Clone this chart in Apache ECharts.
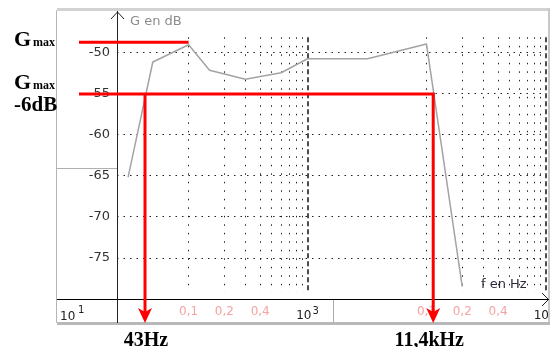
<!DOCTYPE html>
<html>
<head>
<meta charset="utf-8">
<script src="https://cdn.jsdelivr.net/npm/echarts@6/dist/echarts.min.js"></script>
<style>
  html, body { margin: 0; padding: 0; background: #fff; }
  #chart { width: 556px; height: 347px; }
</style>
</head>
<body>
<div id="chart"></div>
<script>
const freqs = [31, 50, 100, 150, 300, 600, 1000, 3200, 10000, 20000]
const gains = [-65.2, -51.2, -49.1, -52.2, -53.3, -52.5, -50.8, -50.8, -49.0, -78.5]

// graduations
const xTickValues = [100, 200, 400, 1000, 10000, 20000, 40000, 100000]
const xTickLabels = ['0,1', '0,2', '0,4', '10^3', '0,1', '0,2', '0,4', '10^5']
const minorGrid = [100, 200, 300, 400, 500, 600, 700, 800, 900,
  10000, 20000, 30000, 40000, 50000, 60000, 70000, 80000, 90000]
const decadeLines = [1000, 100000]

// annotations
const gMax = -48.8
const gCut = -55.1
const fPeak = 100
const fLow = 43
const fHigh = 11400

const myChart = echarts.init(document.getElementById('chart'))

const font = 'DejaVu Sans'

function xLabel (v) {
  let idx = -1
  xTickValues.forEach((t, i) => {
    if (Math.abs(Math.log10(v) - Math.log10(t)) < 0.01) idx = i
  })
  if (idx < 0) return ''
  const txt = xTickLabels[idx]
  if (txt.indexOf('^') > 0) {
    const p = txt.split('^')
    if (v > 50000) return '{b|' + p[0] + '}{sp|}'
    return '{b|' + p[0] + '}{e|' + p[1] + '}'
  }
  return '{p|' + txt + '}'
}

// lignes verticales de la grille (pointillés / tirets)
const vLines = []
minorGrid.forEach(f => {
  vLines.push([{ coord: [f, -48.2], lineStyle: { type: [1.5, 7], color: '#222', width: 1 } }, { coord: [f, -79.2] }])
})
decadeLines.forEach(f => {
  vLines.push([{ coord: [f, -48.2], lineStyle: { type: [5, 3], color: '#111', width: 1.5 } }, { coord: [f, -79.2] }])
})

const option = {
  animation: false,
  grid: { left: 117, right: 10, top: 11, bottom: 48 },
  xAxis: {
    type: 'log',
    logBase: 10,
    min: 25,
    max: 100000,
    axisLine: { show: true, lineStyle: { color: '#000', width: 1 } },
    axisTick: { show: false },
    splitLine: { show: false },
    axisLabel: {
      customValues: xTickValues,
      margin: 7,
      formatter: xLabel,
      rich: {
        p: { color: '#f5a3a3', fontSize: 12, fontFamily: font },
        b: { color: '#222', fontSize: 12, fontFamily: font, padding: [4, 0, 0, 0] },
        e: { color: '#222', fontSize: 10, fontFamily: font, padding: [0, 0, 6, 1] },
        sp: { width: 8 }
      }
    }
  },
  yAxis: {
    type: 'value',
    min: -80,
    max: -45,
    interval: 5,
    axisLine: { show: true, lineStyle: { color: '#222', width: 1 } },
    axisTick: { show: false },
    axisLabel: {
      color: '#333',
      fontSize: 13,
      fontFamily: font,
      margin: 7,
      showMaxLabel: false,
      showMinLabel: false
    },
    splitLine: {
      show: true,
      showMaxLine: false,
      showMinLine: false,
      lineStyle: { type: [1.5, 5], color: '#222', width: 1 }
    }
  },
  series: [
    {
      type: 'line',
      data: freqs.map((f, i) => [f, gains[i]]),
      showSymbol: false,
      lineStyle: { color: '#a3a3a3', width: 1.5 },
      z: 5,
      markLine: {
        silent: true,
        symbol: 'none',
        label: { show: false },
        data: vLines
      }
    }
  ]
}

myChart.setOption(option)

// annotations rouges placées avec les échelles du graphique
const pPeak = myChart.convertToPixel({ gridIndex: 0 }, [fPeak, gMax])
const pLow = myChart.convertToPixel({ gridIndex: 0 }, [fLow, gCut])
const pHigh = myChart.convertToPixel({ gridIndex: 0 }, [fHigh, gCut])
const red = '#ff0000'
const tipY = 323

function arrow (x) {
  return [
    { type: 'line', z: 100, shape: { x1: x, y1: pLow[1], x2: x, y2: tipY - 8 }, style: { stroke: red, lineWidth: 3 } },
    { type: 'polygon', z: 100, shape: { points: [[x - 7, tipY - 15], [x, tipY - 11], [x + 7, tipY - 15], [x, tipY]] }, style: { fill: red } }
  ]
}

const graphic = [
  // cadre
  { type: 'rect', z: 1, shape: { x: 56.5, y: 10.5, width: 492, height: 312 }, style: { fill: null, stroke: '#b4b4b4', lineWidth: 1 } },
  { type: 'rect', z: 1, shape: { x: 57, y: 8, width: 493, height: 3 }, style: { fill: '#d2d2d2' } },
  { type: 'rect', z: 1, shape: { x: 548, y: 8, width: 2, height: 316 }, style: { fill: '#c8c8c8' } },
  { type: 'rect', z: 1, shape: { x: 57, y: 322, width: 493, height: 3 }, style: { fill: '#b8b8b8' } },
  { type: 'line', z: 1, shape: { x1: 57, y1: 168.5, x2: 117, y2: 168.5 }, style: { stroke: '#b0b0b0', lineWidth: 1 } },
  // bande de l'axe des fréquences
  { type: 'line', z: 3, shape: { x1: 57, y1: 299.5, x2: 549, y2: 299.5 }, style: { stroke: '#000', lineWidth: 1 } },
  { type: 'line', z: 3, shape: { x1: 117.5, y1: 299, x2: 117.5, y2: 323 }, style: { stroke: '#222', lineWidth: 1 } },
  { type: 'line', z: 3, shape: { x1: 333.5, y1: 300, x2: 333.5, y2: 322 }, style: { stroke: '#aaa', lineWidth: 1 } },
  // flèches des axes
  { type: 'polyline', z: 3, shape: { points: [[111, 19], [117.5, 12], [124, 19]] }, style: { stroke: '#222', lineWidth: 1, fill: null } },
  { type: 'polyline', z: 3, shape: { points: [[542, 293], [548.5, 299.5], [542, 306]] }, style: { stroke: '#222', lineWidth: 1, fill: null } },
  // titres d'axes
  { type: 'text', z: 3, x: 130, y: 15, style: { text: 'G en dB', fill: '#8c8c8c', font: '13px "DejaVu Sans"' } },
  { type: 'text', z: 3, x: 481, y: 278, style: { text: 'f en Hz', fill: '#2a2a3a', font: '13px "DejaVu Sans"' } },
  { type: 'text', z: 3, x: 60, y: 311, style: { text: '10', fill: '#222', font: '12px "DejaVu Sans"' } },
  { type: 'text', z: 3, x: 78, y: 305, style: { text: '1', fill: '#222', font: '10px "DejaVu Sans"' } },
  // Gmax
  { type: 'text', z: 50, x: 14, y: 29, style: { text: 'G', fill: '#000', font: 'bold 22px "Liberation Serif"' } },
  { type: 'text', z: 50, x: 33, y: 37, style: { text: 'max', fill: '#000', font: 'bold 12px "Liberation Serif"' } },
  { type: 'text', z: 50, x: 14, y: 72, style: { text: 'G', fill: '#000', font: 'bold 22px "Liberation Serif"' } },
  { type: 'text', z: 50, x: 33, y: 80, style: { text: 'max', fill: '#000', font: 'bold 12px "Liberation Serif"' } },
  { type: 'text', z: 50, x: 14, y: 95, style: { text: '-6dB', fill: '#000', font: 'bold 21px "Liberation Serif"' } },
  { type: 'text', z: 50, x: pLow[0] + 1, y: 331, style: { text: '43Hz', fill: '#000', font: 'bold 20px "Liberation Serif"', align: 'center' } },
  { type: 'text', z: 50, x: pHigh[0] - 4, y: 331, style: { text: '11,4kHz', fill: '#000', font: 'bold 20px "Liberation Serif"', align: 'center' } },
  // traits rouges
  { type: 'line', z: 100, shape: { x1: 79, y1: pPeak[1], x2: pPeak[0], y2: pPeak[1] }, style: { stroke: red, lineWidth: 3 } },
  { type: 'line', z: 100, shape: { x1: 79, y1: pLow[1], x2: pHigh[0] + 1.5, y2: pLow[1] }, style: { stroke: red, lineWidth: 3 } },
  ...arrow(pLow[0]),
  ...arrow(pHigh[0])
]

myChart.setOption({ graphic })
</script>
</body>
</html>
